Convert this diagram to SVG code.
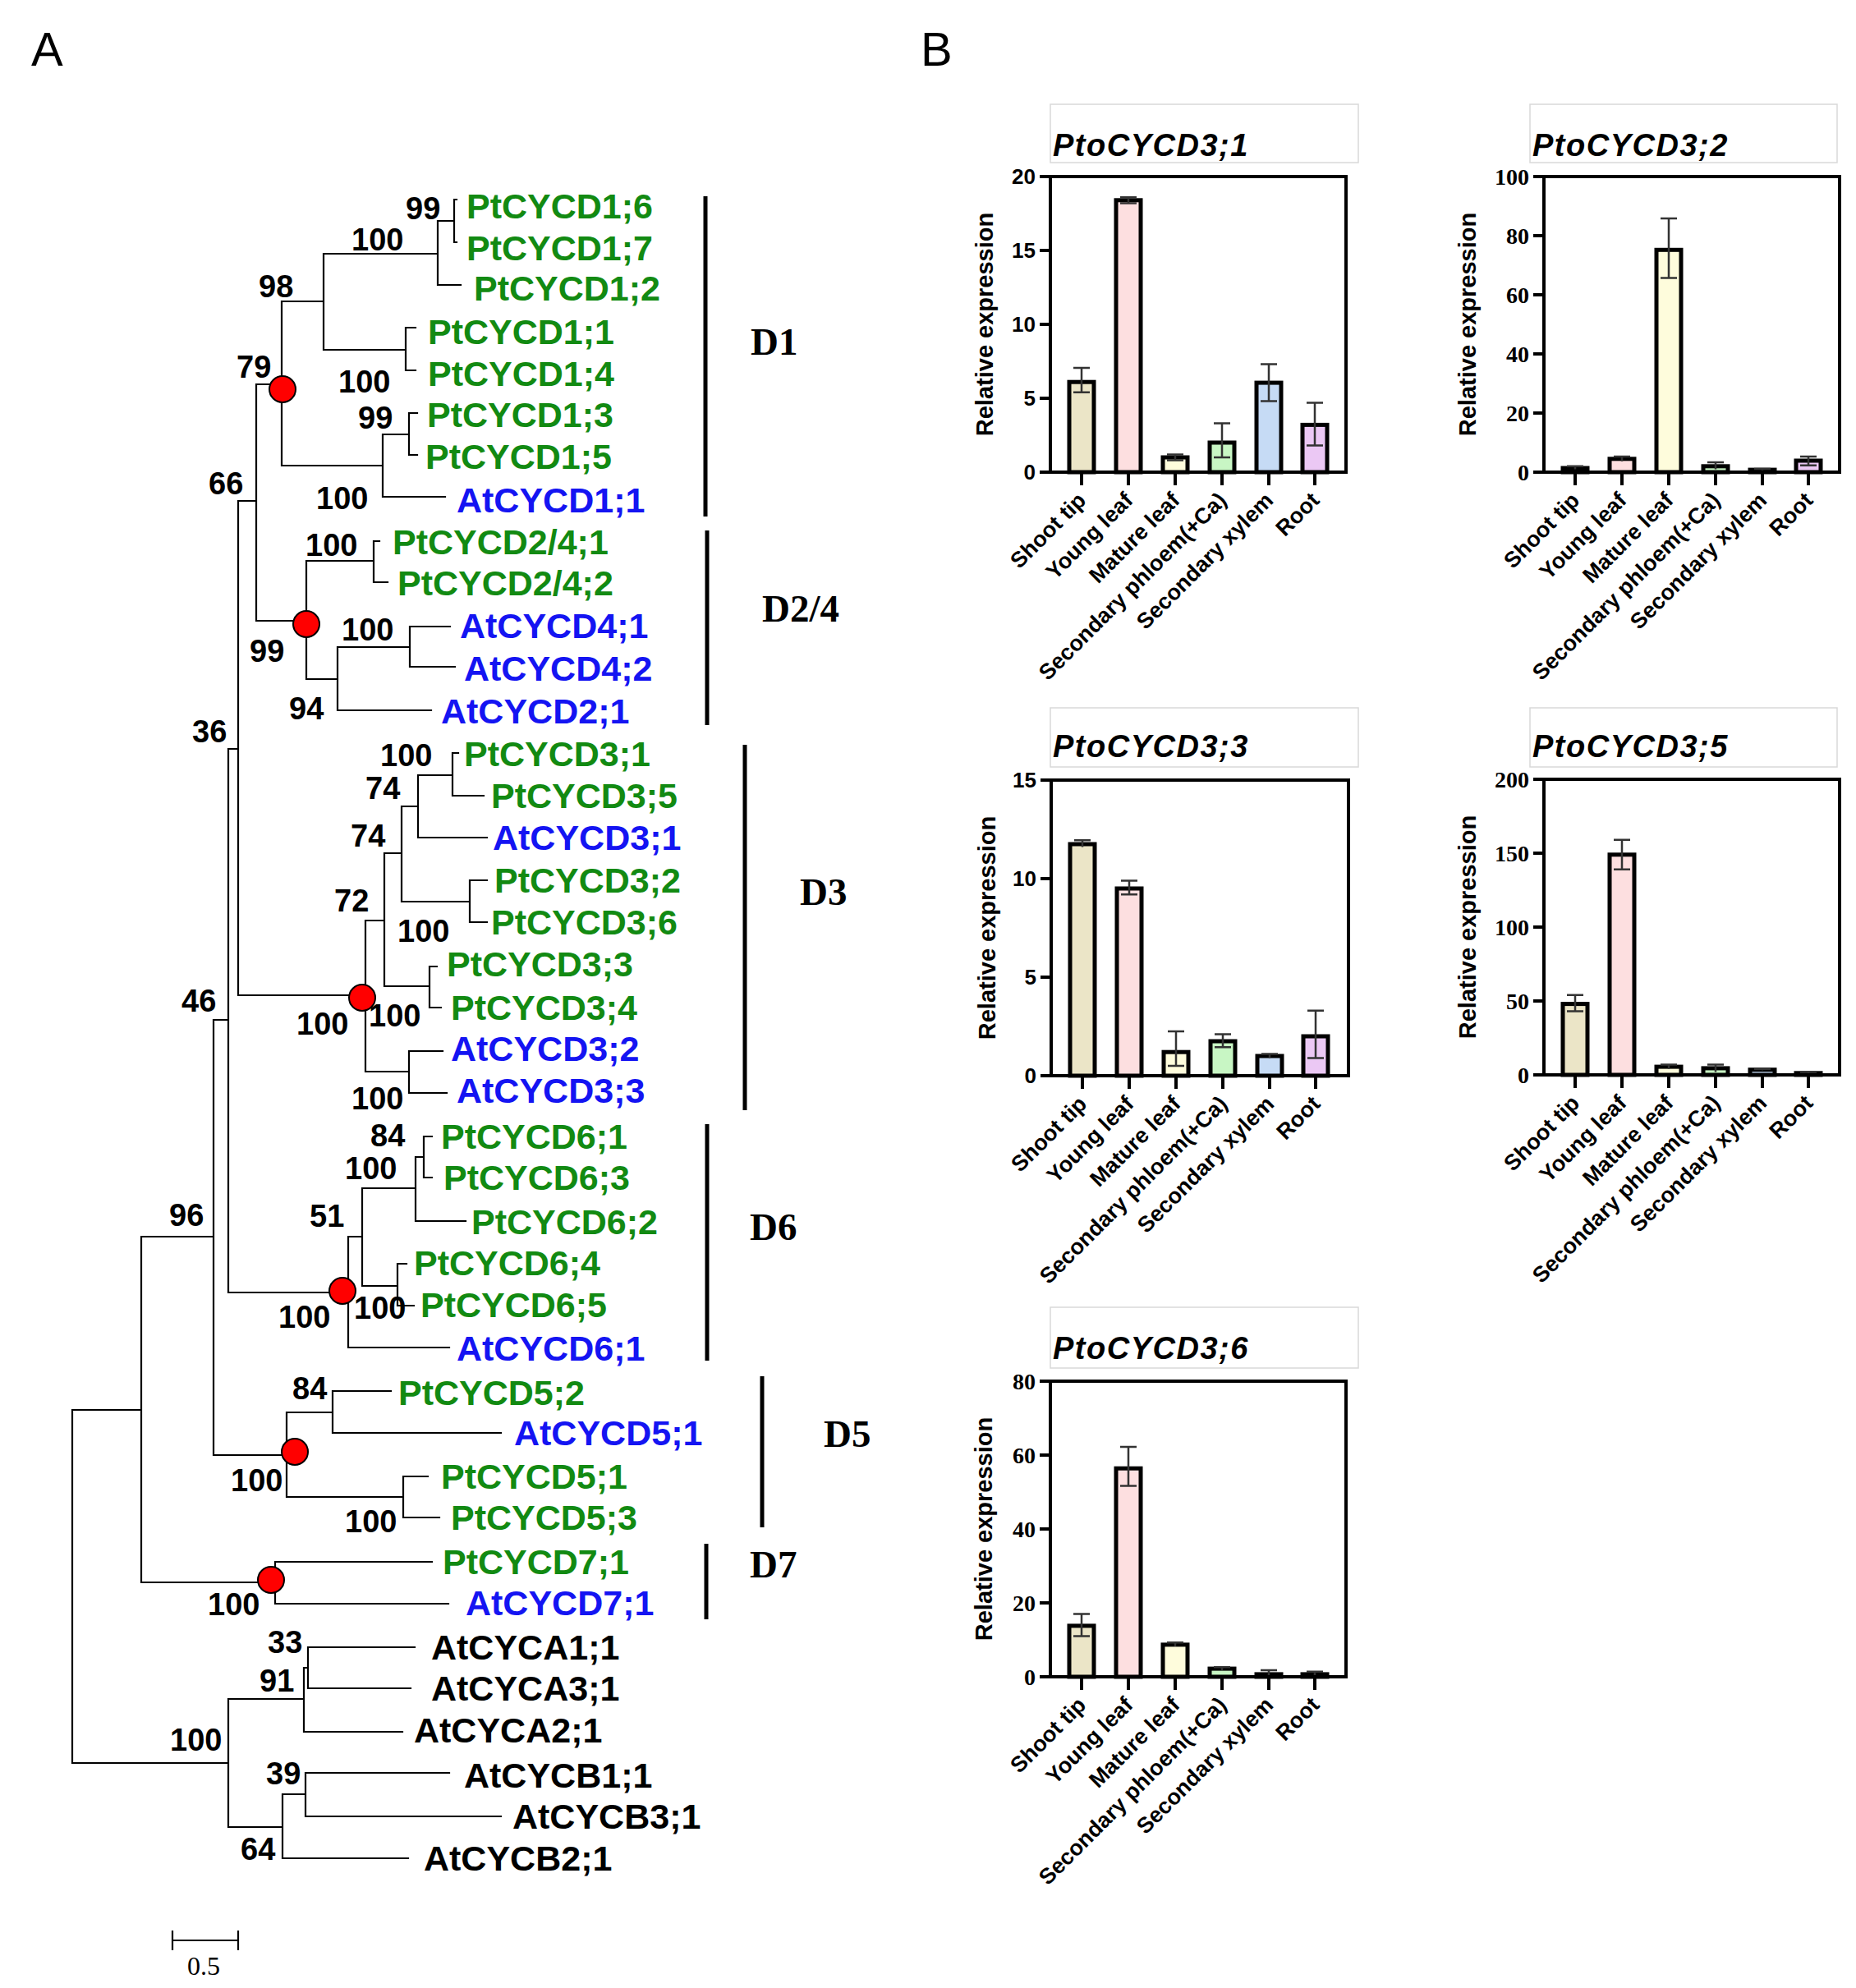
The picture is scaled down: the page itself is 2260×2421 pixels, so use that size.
<svg xmlns="http://www.w3.org/2000/svg" width="2260" height="2421" viewBox="0 0 2260 2421">
<style>
.br{stroke:#000;stroke-width:2.2;fill:none;stroke-linecap:square}
.tip{font-family:"Liberation Sans",Arial,sans-serif;font-weight:bold;font-size:43px}
.pt{fill:#128a12}.at{fill:#1414f2}.ac{fill:#000}
.bs{font-family:"Liberation Sans",Arial,sans-serif;font-weight:bold;font-size:38px;fill:#000}
.clade{font-family:"Liberation Serif","Times New Roman",serif;font-weight:bold;font-size:47px}
.cbar{stroke:#000;stroke-width:5}
.node{fill:#f00;stroke:#000;stroke-width:2}
.panel{font-family:"Liberation Sans",Arial,sans-serif;font-size:58px}
.frame{fill:none;stroke:#000;stroke-width:4}
.tk{stroke:#000;stroke-width:4;fill:none}
.bar{stroke:#000;stroke-width:5}
.eb{stroke:#333;stroke-width:2.5;fill:none}
.tbox{fill:#fff;stroke:#d9d9d9;stroke-width:1.5}
.title{font-family:"Liberation Sans",Arial,sans-serif;font-weight:bold;font-style:italic;font-size:38px;letter-spacing:1.5px}
.ylab{font-family:"Liberation Sans",Arial,sans-serif;font-weight:bold;font-size:29px;text-anchor:middle}
.tlS{font-family:"Liberation Sans",Arial,sans-serif;font-weight:bold;font-size:26px;text-anchor:end}
.tlT{font-family:"Liberation Serif","Times New Roman",serif;font-weight:bold;font-size:28px;text-anchor:end}
.xl{font-family:"Liberation Sans",Arial,sans-serif;font-weight:bold;font-size:27px;text-anchor:end}
.c1{fill:#ebe5c7}.c2{fill:#fddfe0}.c3{fill:#fefcdc}.c4{fill:#c8f6c4}.c5{fill:#c6dbf5}.c6{fill:#ebc8f4}
</style>
<rect width="2260" height="2421" fill="#fff"/>
<text class="panel" x="38" y="80">A</text>
<text class="panel" x="1121" y="80">B</text>

<g id="branches">
<path class="br" d="M88,1717V2147M88,1717H172M88,2147H278
M172,1506V1927M172,1506H260M172,1927H335
M335,1902V1953M335,1902H526M335,1953H546
M260,1242V1772M260,1242H278M260,1772H349
M349,1720V1823M349,1720H405M349,1823H491
M405,1694V1745M405,1694H476M405,1745H610
M491,1798V1848M491,1798H521M491,1848H535
M278,912V1574M278,912H290M278,1574H424
M424,1506V1641M424,1506H441M424,1641H547
M441,1447V1566M441,1447H506M441,1566H484
M506,1409V1487M506,1409H516M506,1487H567
M516,1384V1434M516,1384H526M516,1434H526
M484,1539V1590M484,1539H495M484,1590H504
M290,610V1212M290,610H312M290,1212H445
M445,1121V1305M445,1121H468M445,1305H498
M468,1039V1201M468,1039H489M468,1201H523
M489,982V1098M489,982H509M489,1098H572
M509,944V1020M509,944H551M509,1020H593
M551,917V969M551,917H558M551,969H589
M572,1072V1123M572,1072H593M572,1123H593
M523,1177V1227M523,1177H532M523,1227H537
M498,1280V1331M498,1280H539M498,1331H544
M312,468V756M312,468H343M312,756H373
M373,683V827M373,683H455M373,827H411
M455,659V709M455,659H462M455,709H472
M411,788V865M411,788H499M411,865H525
M499,763V812M499,763H548M499,812H554
M343,367V567M343,367H394M343,567H466
M394,309V426M394,309H533M394,426H494
M533,269V347M533,269H553M533,347H561
M553,243V295M553,243H556M553,295H556
M494,399V451M494,399H506M494,451H506
M466,529V605M466,529H498M466,605H542
M498,503V554M498,503H508M498,554H508
M278,2069V2225M278,2069H370M278,2225H344
M370,2031V2109M370,2031H375M370,2109H490
M375,2006V2056M375,2006H505M375,2056H500
M344,2185V2263M344,2185H372M344,2263H497
M372,2159V2212M372,2159H547M372,2212H610"/>
</g>

<g id="support-nodes">
<g id="node-D1"><circle class="node" cx="344" cy="474" r="16"/></g>
<g id="node-D24"><circle class="node" cx="373" cy="760" r="16"/></g>
<g id="node-D3"><circle class="node" cx="441" cy="1215" r="16"/></g>
<g id="node-D6"><circle class="node" cx="417" cy="1572" r="16"/></g>
<g id="node-D5"><circle class="node" cx="359" cy="1768" r="16"/></g>
<g id="node-D7"><circle class="node" cx="330" cy="1924" r="16"/></g>
</g>

<g id="bootstrap" class="bs">
<text x="494" y="267">99</text>
<text x="428" y="305">100</text>
<text x="315" y="362">98</text>
<text x="288" y="460">79</text>
<text x="412" y="478">100</text>
<text x="436" y="522">99</text>
<text x="254" y="602">66</text>
<text x="385" y="620">100</text>
<text x="372" y="677">100</text>
<text x="416" y="780">100</text>
<text x="304" y="806">99</text>
<text x="352" y="876">94</text>
<text x="234" y="904">36</text>
<text x="463" y="933">100</text>
<text x="445" y="973">74</text>
<text x="427" y="1031">74</text>
<text x="407" y="1110">72</text>
<text x="484" y="1147">100</text>
<text x="221" y="1232">46</text>
<text x="449" y="1250">100</text>
<text x="361" y="1260">100</text>
<text x="428" y="1351">100</text>
<text x="451" y="1396">84</text>
<text x="420" y="1436">100</text>
<text x="206" y="1493">96</text>
<text x="377" y="1494">51</text>
<text x="431" y="1606">100</text>
<text x="339" y="1617">100</text>
<text x="356" y="1704">84</text>
<text x="281" y="1816">100</text>
<text x="420" y="1866">100</text>
<text x="253" y="1967">100</text>
<text x="326" y="2013">33</text>
<text x="316" y="2060">91</text>
<text x="207" y="2132">100</text>
<text x="324" y="2173">39</text>
<text x="293" y="2265">64</text>
</g>

<g id="tips" class="tip">
<g id="tip-PtCYCD1-6"><text class="pt" x="568" y="266">PtCYCD1;6</text></g>
<g id="tip-PtCYCD1-7"><text class="pt" x="568" y="317">PtCYCD1;7</text></g>
<g id="tip-PtCYCD1-2"><text class="pt" x="577" y="366">PtCYCD1;2</text></g>
<g id="tip-PtCYCD1-1"><text class="pt" x="521" y="419">PtCYCD1;1</text></g>
<g id="tip-PtCYCD1-4"><text class="pt" x="521" y="470">PtCYCD1;4</text></g>
<g id="tip-PtCYCD1-3"><text class="pt" x="520" y="520">PtCYCD1;3</text></g>
<g id="tip-PtCYCD1-5"><text class="pt" x="518" y="571">PtCYCD1;5</text></g>
<g id="tip-AtCYCD1-1"><text class="at" x="556" y="624">AtCYCD1;1</text></g>
<g id="tip-PtCYCD24-1"><text class="pt" x="478" y="675">PtCYCD2/4;1</text></g>
<g id="tip-PtCYCD24-2"><text class="pt" x="484" y="725">PtCYCD2/4;2</text></g>
<g id="tip-AtCYCD4-1"><text class="at" x="560" y="777">AtCYCD4;1</text></g>
<g id="tip-AtCYCD4-2"><text class="at" x="565" y="829">AtCYCD4;2</text></g>
<g id="tip-AtCYCD2-1"><text class="at" x="537" y="881">AtCYCD2;1</text></g>
<g id="tip-PtCYCD3-1"><text class="pt" x="565" y="933">PtCYCD3;1</text></g>
<g id="tip-PtCYCD3-5"><text class="pt" x="598" y="984">PtCYCD3;5</text></g>
<g id="tip-AtCYCD3-1"><text class="at" x="600" y="1035">AtCYCD3;1</text></g>
<g id="tip-PtCYCD3-2"><text class="pt" x="602" y="1087">PtCYCD3;2</text></g>
<g id="tip-PtCYCD3-6"><text class="pt" x="598" y="1138">PtCYCD3;6</text></g>
<g id="tip-PtCYCD3-3"><text class="pt" x="544" y="1189">PtCYCD3;3</text></g>
<g id="tip-PtCYCD3-4"><text class="pt" x="549" y="1242">PtCYCD3;4</text></g>
<g id="tip-AtCYCD3-2"><text class="at" x="549" y="1292">AtCYCD3;2</text></g>
<g id="tip-AtCYCD3-3"><text class="at" x="556" y="1343">AtCYCD3;3</text></g>
<g id="tip-PtCYCD6-1"><text class="pt" x="537" y="1399">PtCYCD6;1</text></g>
<g id="tip-PtCYCD6-3"><text class="pt" x="540" y="1449">PtCYCD6;3</text></g>
<g id="tip-PtCYCD6-2"><text class="pt" x="574" y="1503">PtCYCD6;2</text></g>
<g id="tip-PtCYCD6-4"><text class="pt" x="504" y="1553">PtCYCD6;4</text></g>
<g id="tip-PtCYCD6-5"><text class="pt" x="512" y="1604">PtCYCD6;5</text></g>
<g id="tip-AtCYCD6-1"><text class="at" x="556" y="1657">AtCYCD6;1</text></g>
<g id="tip-PtCYCD5-2"><text class="pt" x="485" y="1711">PtCYCD5;2</text></g>
<g id="tip-AtCYCD5-1"><text class="at" x="626" y="1760">AtCYCD5;1</text></g>
<g id="tip-PtCYCD5-1"><text class="pt" x="537" y="1813">PtCYCD5;1</text></g>
<g id="tip-PtCYCD5-3"><text class="pt" x="549" y="1863">PtCYCD5;3</text></g>
<g id="tip-PtCYCD7-1"><text class="pt" x="539" y="1917">PtCYCD7;1</text></g>
<g id="tip-AtCYCD7-1"><text class="at" x="567" y="1967">AtCYCD7;1</text></g>
<g id="tip-AtCYCA1-1"><text class="ac" x="525" y="2021">AtCYCA1;1</text></g>
<g id="tip-AtCYCA3-1"><text class="ac" x="525" y="2071">AtCYCA3;1</text></g>
<g id="tip-AtCYCA2-1"><text class="ac" x="504" y="2122">AtCYCA2;1</text></g>
<g id="tip-AtCYCB1-1"><text class="ac" x="565" y="2177">AtCYCB1;1</text></g>
<g id="tip-AtCYCB3-1"><text class="ac" x="624" y="2227">AtCYCB3;1</text></g>
<g id="tip-AtCYCB2-1"><text class="ac" x="516" y="2278">AtCYCB2;1</text></g>
</g>

<g id="clades">
<path class="cbar" d="M859,239V629M861,646V883M907,907V1352M861,1369V1657M928,1676V1860M860,1880V1972"/>
<text class="clade" x="914" y="432">D1</text>
<text class="clade" x="928" y="757">D2/4</text>
<text class="clade" x="974" y="1102">D3</text>
<text class="clade" x="913" y="1510">D6</text>
<text class="clade" x="1003" y="1762">D5</text>
<text class="clade" x="913" y="1921">D7</text>
</g>

<g id="scale-bar">
<path class="br" d="M210,2363H290M210,2352V2374M290,2352V2374"/>
<text x="228" y="2405" font-family="Liberation Serif, Times New Roman, serif" font-size="32">0.5</text>
</g>

<!-- Chart 1 -->
<g id="chart-PtoCYCD3-1" transform="translate(1279,215)">
<rect class="tbox" x="0" y="-88" width="375" height="71"/>
<text class="title" x="3" y="-25">PtoCYCD3;1</text>
<rect class="bar c1" x="23" y="250.2" width="30" height="109.8"/>
<rect class="bar c2" x="80" y="28.8" width="30" height="331.2"/>
<rect class="bar c3" x="137" y="342" width="30" height="18"/>
<rect class="bar c4" x="194" y="324" width="30" height="36"/>
<rect class="bar c5" x="251" y="251.1" width="30" height="108.9"/>
<rect class="bar c6" x="307" y="302.4" width="30" height="57.6"/>
<path class="eb" d="M38,262.8V233.1M28,233.1H48M28,262.8H48M95,32.4V25.2M85,25.2H105M85,32.4H105M152,345.6V338.4M142,338.4H162M142,345.6H162M209,342V300.6M199,300.6H219M199,342H219M266,273.6V228.6M256,228.6H276M256,273.6H276M322,327.6V275.4M312,275.4H332M312,327.6H332"/>
<rect class="frame" x="0" y="0" width="360" height="360"/>
<path class="tk" d="M-13,0H0M-13,90H0M-13,180H0M-13,270H0M-13,360H0M38,360V376M95,360V376M152,360V376M209,360V376M266,360V376M322,360V376"/>
<text class="tlS" x="-18" y="9">20</text>
<text class="tlS" x="-18" y="99">15</text>
<text class="tlS" x="-18" y="189">10</text>
<text class="tlS" x="-18" y="279">5</text>
<text class="tlS" x="-18" y="369">0</text>
<text class="ylab" transform="translate(-70,180) rotate(-90)">Relative expression</text>
<text class="xl" transform="translate(45,396) rotate(-45)">Shoot tip</text>
<text class="xl" transform="translate(102,396) rotate(-45)">Young leaf</text>
<text class="xl" transform="translate(159,396) rotate(-45)">Mature leaf</text>
<text class="xl" transform="translate(216,396) rotate(-45)">Secondary phloem(+Ca)</text>
<text class="xl" transform="translate(273,396) rotate(-45)">Secondary xylem</text>
<text class="xl" transform="translate(329,396) rotate(-45)">Root</text>
</g>

<!-- Chart 2 -->
<g id="chart-PtoCYCD3-2" transform="translate(1880,215)">
<rect class="tbox" x="-17" y="-88" width="374" height="71"/>
<text class="title" x="-14" y="-25">PtoCYCD3;2</text>
<rect class="bar c1" x="23" y="355" width="30" height="5"/>
<rect class="bar c2" x="80" y="343.8" width="30" height="16.2"/>
<rect class="bar c3" x="137" y="89.3" width="30" height="270.7"/>
<rect class="bar c4" x="194" y="352.8" width="30" height="7.2"/>
<rect class="bar c5" x="251" y="357.1" width="30" height="2.9"/>
<rect class="bar c6" x="307" y="346" width="30" height="14"/>
<path class="eb" d="M38,356.4V352.8M28,352.8H48M95,346.7V340.9M85,340.9H105M152,123.5V51.1M142,51.1H162M142,123.5H162M209,356.4V348.1M199,348.1H219M266,357.8V356M256,356H276M322,351.7V340.9M312,340.9H332M312,351.7H332"/>
<rect class="frame" x="0" y="0" width="360" height="360"/>
<path class="tk" d="M-13,0H0M-13,72H0M-13,144H0M-13,216H0M-13,288H0M-13,360H0M38,360V376M95,360V376M152,360V376M209,360V376M266,360V376M322,360V376"/>
<text class="tlT" x="-18" y="10">100</text>
<text class="tlT" x="-18" y="82">80</text>
<text class="tlT" x="-18" y="154">60</text>
<text class="tlT" x="-18" y="226">40</text>
<text class="tlT" x="-18" y="298">20</text>
<text class="tlT" x="-18" y="370">0</text>
<text class="ylab" transform="translate(-83,180) rotate(-90)">Relative expression</text>
<text class="xl" transform="translate(45,396) rotate(-45)">Shoot tip</text>
<text class="xl" transform="translate(102,396) rotate(-45)">Young leaf</text>
<text class="xl" transform="translate(159,396) rotate(-45)">Mature leaf</text>
<text class="xl" transform="translate(216,396) rotate(-45)">Secondary phloem(+Ca)</text>
<text class="xl" transform="translate(273,396) rotate(-45)">Secondary xylem</text>
<text class="xl" transform="translate(329,396) rotate(-45)">Root</text>
</g>

<!-- Chart 3 -->
<g id="chart-PtoCYCD3-3" transform="translate(1280,950)">
<rect class="tbox" x="-1" y="-88" width="375" height="72"/>
<text class="title" x="2" y="-28">PtoCYCD3;3</text>
<rect class="bar c1" x="23" y="78" width="30" height="282"/>
<rect class="bar c2" x="80" y="132" width="30" height="228"/>
<rect class="bar c3" x="137" y="331.2" width="30" height="28.8"/>
<rect class="bar c4" x="194" y="318" width="30" height="42"/>
<rect class="bar c5" x="251" y="336" width="30" height="24"/>
<rect class="bar c6" x="307" y="312" width="30" height="48"/>
<path class="eb" d="M38,81.6V73.2M28,73.2H48M95,139.2V122.4M85,122.4H105M85,139.2H105M152,348V306M142,306H162M142,348H162M209,325.2V309.6M199,309.6H219M199,325.2H219M266,338.4V333.6M256,333.6H276M322,338.4V280.8M312,280.8H332M312,338.4H332"/>
<rect class="frame" x="0" y="0" width="362" height="360"/>
<path class="tk" d="M-13,0H0M-13,120H0M-13,240H0M-13,360H0M38,360V376M95,360V376M152,360V376M209,360V376M266,360V376M322,360V376"/>
<text class="tlS" x="-18" y="9">15</text>
<text class="tlS" x="-18" y="129">10</text>
<text class="tlS" x="-18" y="249">5</text>
<text class="tlS" x="-18" y="369">0</text>
<text class="ylab" transform="translate(-68,180) rotate(-90)">Relative expression</text>
<text class="xl" transform="translate(45,396) rotate(-45)">Shoot tip</text>
<text class="xl" transform="translate(102,396) rotate(-45)">Young leaf</text>
<text class="xl" transform="translate(159,396) rotate(-45)">Mature leaf</text>
<text class="xl" transform="translate(216,396) rotate(-45)">Secondary phloem(+Ca)</text>
<text class="xl" transform="translate(273,396) rotate(-45)">Secondary xylem</text>
<text class="xl" transform="translate(329,396) rotate(-45)">Root</text>
</g>

<!-- Chart 4 -->
<g id="chart-PtoCYCD3-5" transform="translate(1880,949)">
<rect class="tbox" x="-17" y="-87" width="374" height="72"/>
<text class="title" x="-14" y="-27">PtoCYCD3;5</text>
<rect class="bar c1" x="23" y="273.6" width="30" height="86.4"/>
<rect class="bar c2" x="80" y="91.8" width="30" height="268.2"/>
<rect class="bar c3" x="137" y="350.1" width="30" height="9.9"/>
<rect class="bar c4" x="194" y="351.9" width="30" height="8.1"/>
<rect class="bar c5" x="251" y="353.7" width="30" height="6.3"/>
<rect class="bar c6" x="307" y="357.8" width="30" height="2.2"/>
<path class="eb" d="M38,282.6V262.8M28,262.8H48M28,282.6H48M95,109.8V73.8M85,73.8H105M85,109.8H105M152,352.8V347.4M142,347.4H162M209,356.4V347.4M199,347.4H219M266,354.6V352.8M256,352.8H276M322,359.1V356.4M312,356.4H332"/>
<rect class="frame" x="0" y="0" width="360" height="360"/>
<path class="tk" d="M-13,0H0M-13,90H0M-13,180H0M-13,270H0M-13,360H0M38,360V376M95,360V376M152,360V376M209,360V376M266,360V376M322,360V376"/>
<text class="tlT" x="-18" y="10">200</text>
<text class="tlT" x="-18" y="100">150</text>
<text class="tlT" x="-18" y="190">100</text>
<text class="tlT" x="-18" y="280">50</text>
<text class="tlT" x="-18" y="370">0</text>
<text class="ylab" transform="translate(-83,180) rotate(-90)">Relative expression</text>
<text class="xl" transform="translate(45,396) rotate(-45)">Shoot tip</text>
<text class="xl" transform="translate(102,396) rotate(-45)">Young leaf</text>
<text class="xl" transform="translate(159,396) rotate(-45)">Mature leaf</text>
<text class="xl" transform="translate(216,396) rotate(-45)">Secondary phloem(+Ca)</text>
<text class="xl" transform="translate(273,396) rotate(-45)">Secondary xylem</text>
<text class="xl" transform="translate(329,396) rotate(-45)">Root</text>
</g>

<!-- Chart 5 -->
<g id="chart-PtoCYCD3-6" transform="translate(1279,1682)">
<rect class="tbox" x="0" y="-90" width="375" height="74"/>
<text class="title" x="3" y="-27">PtoCYCD3;6</text>
<rect class="bar c1" x="23" y="297.9" width="30" height="62.1"/>
<rect class="bar c2" x="80" y="106.2" width="30" height="253.8"/>
<rect class="bar c3" x="137" y="320.9" width="30" height="39.1"/>
<rect class="bar c4" x="194" y="350.1" width="30" height="9.9"/>
<rect class="bar c5" x="251" y="356.9" width="30" height="3.1"/>
<rect class="bar c6" x="307" y="356.9" width="30" height="3.1"/>
<path class="eb" d="M38,310.5V283.5M28,283.5H48M28,310.5H48M95,127.4V80.1M85,80.1H105M85,127.4H105M152,323.1V318.2M142,318.2H162M209,351.9V348.3M199,348.3H219M266,358.7V351.9M256,351.9H276M322,358.7V353.7M312,353.7H332"/>
<rect class="frame" x="0" y="0" width="360" height="360"/>
<path class="tk" d="M-13,0H0M-13,90H0M-13,180H0M-13,270H0M-13,360H0M38,360V376M95,360V376M152,360V376M209,360V376M266,360V376M322,360V376"/>
<text class="tlT" x="-18" y="10">80</text>
<text class="tlT" x="-18" y="100">60</text>
<text class="tlT" x="-18" y="190">40</text>
<text class="tlT" x="-18" y="280">20</text>
<text class="tlT" x="-18" y="370">0</text>
<text class="ylab" transform="translate(-71,180) rotate(-90)">Relative expression</text>
<text class="xl" transform="translate(45,396) rotate(-45)">Shoot tip</text>
<text class="xl" transform="translate(102,396) rotate(-45)">Young leaf</text>
<text class="xl" transform="translate(159,396) rotate(-45)">Mature leaf</text>
<text class="xl" transform="translate(216,396) rotate(-45)">Secondary phloem(+Ca)</text>
<text class="xl" transform="translate(273,396) rotate(-45)">Secondary xylem</text>
<text class="xl" transform="translate(329,396) rotate(-45)">Root</text>
</g>
</svg>
